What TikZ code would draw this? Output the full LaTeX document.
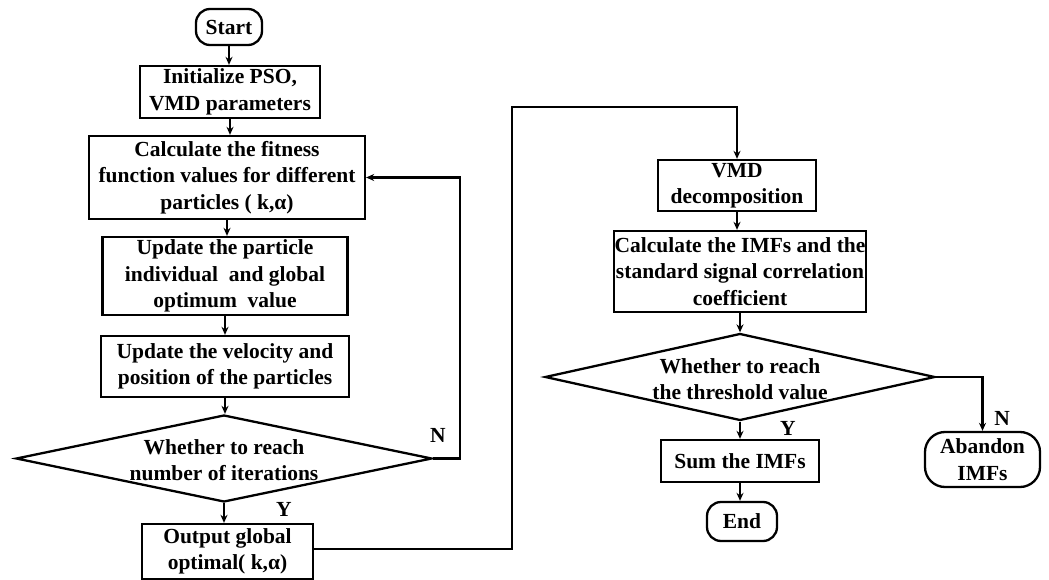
\documentclass[tikz,border=0pt]{standalone}
\usepackage{fontspec}
\setmainfont{Liberation Serif}
\usetikzlibrary{shapes.geometric,arrows.meta}
\begin{document}
\begin{tikzpicture}[x=1pt,y=-1pt,
  every node/.style={font=\bfseries\fontsize{21.5}{26.5}\selectfont, inner sep=0pt, align=center},
  box/.style={draw, line width=2.3pt, rectangle},
  term/.style={draw, line width=2.3pt, rectangle, rounded corners=14pt},
  dia/.style={draw, line width=2.3pt, diamond},
  lbl/.style={},
  conn/.style={line width=2.2pt, -{Stealth[length=8pt,width=7pt]}},
  line/.style={line width=2.2pt}]
\useasboundingbox (0,0) rectangle (1049,580);
% left column
\node[term, minimum width=66pt, minimum height=36pt] (start) at (229,27) {Start};
\node[box, minimum width=180pt, minimum height=52pt] (init) at (230,92) {Initialize PSO,\\VMD parameters};
\node[box, minimum width=276pt, minimum height=83pt] (calc) at (227,177.5) {Calculate the fitness\\function values for different\\particles ( k,α)};
\node[box, minimum width=245pt, minimum height=78pt] (upd1) at (225,276) {Update the particle\\individual\ \ and global\\optimum\ \ value};
\node[box, minimum width=248pt, minimum height=61pt] (upd2) at (225,366.5) {Update the velocity and\\position of the particles};
\node[dia, minimum width=416pt, minimum height=87pt] (d1) at (224,458.5) {};
\node (d1t) at (224,460) {Whether to reach\\number of iterations};
\node[box, minimum width=171pt, minimum height=55pt] (out) at (227.5,551.5) {Output global\\optimal( k,α)};
% right column
\node[box, minimum width=158pt, minimum height=51pt] (vmd) at (737,185.5) {VMD\\decomposition};
\node[box, minimum width=252pt, minimum height=81pt] (imf) at (740,271.5) {Calculate the IMFs and the\\standard signal correlation\\coefficient};
\node[dia, minimum width=390pt, minimum height=87pt] (d2) at (740,377) {};
\node (d2t) at (740,379) {Whether to reach\\the threshold value};
\node[box, minimum width=158pt, minimum height=42pt] (sum) at (740,461) {Sum the IMFs};
\node[term, minimum width=70pt, minimum height=39pt] (end) at (742,521.5) {End};
\node[term, rounded corners=20pt, minimum width=115pt, minimum height=55pt] (aban) at (982.5,459.5) {Abandon\\IMFs};
% labels
\node[lbl] (n1) at (438,435) {N};
\node[lbl] (y1) at (284,509) {Y};
\node[lbl] (n2) at (1002,418) {N};
\node[lbl] (y2) at (788,428) {Y};
% connectors
\draw[conn] (start.south) -- (start.south |- init.north);
\draw[conn] (init.south) -- (init.south |- calc.north);
\draw[conn] (calc.south) -- (calc.south |- upd1.north);
\draw[conn] (upd1.south) -- (upd1.south |- upd2.north);
\draw[conn] (upd2.south) -- (upd2.south |- d1.north);
\draw[conn] (d1.south) -- (d1.south |- out.north);
\coordinate (lp) at (460,458.5);
\draw[conn] (d1.east) -- (lp) |- (calc.east);
\coordinate (c2) at (512,107);
\draw[conn] ([yshift=2.5pt]out.east) -| (c2) -| (vmd.north);
\draw[conn] (vmd.south) -- (vmd.south |- imf.north);
\draw[conn] (imf.south) -- (imf.south |- d2.north);
\draw[conn] (d2.south) -- (d2.south |- sum.north);
\draw[conn] (sum.south) -- (sum.south |- end.north);
\draw[conn] (d2.east) -| (aban.north);
\end{tikzpicture}
\end{document}
